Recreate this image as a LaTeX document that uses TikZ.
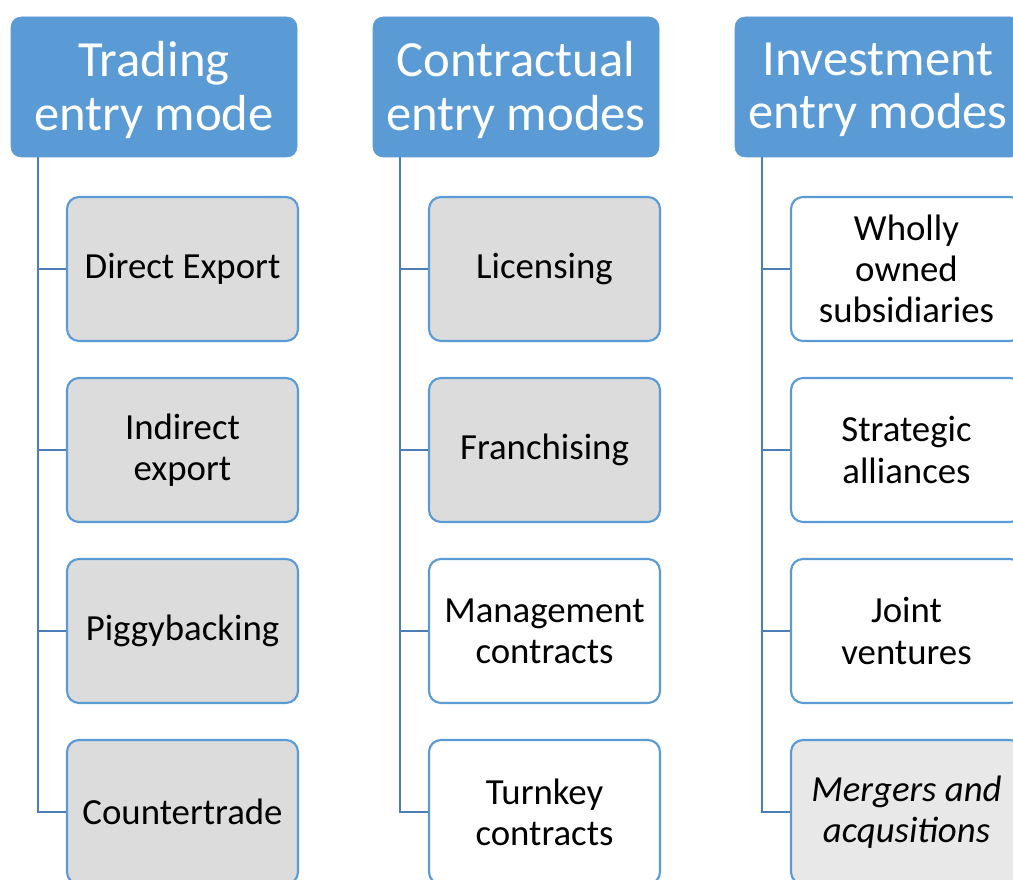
\documentclass[tikz,border=0pt]{standalone}
\usepackage{fontspec}
\setmainfont{Carlito}
\begin{document}
\definecolor{headblue}{HTML}{5B9BD5}
\definecolor{trunkblue}{HTML}{4A7EB4}
\definecolor{boxgray}{HTML}{DCDCDC}
\definecolor{lightgray}{HTML}{E8E8E8}
\begin{tikzpicture}[x=0.75pt, y=-0.75pt,
  header/.style={draw=headblue, fill=headblue, rounded corners=7.5pt,
    minimum width={286*0.75pt}, minimum height={140*0.75pt}, inner sep=0pt,
    text=white, align=center,
    font=\fontsize{38pt}{40pt}\selectfont},
  item/.style={draw=headblue, line width=1.6pt, rounded corners=9pt,
    minimum width={231*0.75pt}, minimum height={144*0.75pt}, inner sep=0pt,
    align=center, text=black,
    font=\fontsize{27.6pt}{30.8pt}\selectfont},
  grayitem/.style={item, fill=boxgray},
  whiteitem/.style={item, fill=white},
  link/.style={draw=trunkblue, line width=2.2pt}]
\useasboundingbox (0,0) rectangle (1013,880);
\clip (0,0) rectangle (1013,880);

% column headers
\node[header] (h1) at (154,87) {};
\node[header] (h2) at (516,87) {};
\node[header] (h3) at (878,87) {};
\node[header, draw=none, fill=none] (h1t) at (154,90) {Trading\\entry mode};
\node[header, draw=none, fill=none] (h2t) at (516,90) {Contractual\\entry modes};
\node[header, draw=none, fill=none] (h3t) at (878,90) {Investment\\entry modes};

% trunk start points below each header
\coordinate (t1) at (38,157);
\coordinate (t2) at (400,157);
\coordinate (t3) at (762,157);

% trading column
\node[grayitem] (a1) at (182.5,269) {Direct Export};
\node[grayitem] (a2) at (182.5,450) {Indirect\\export};
\node[grayitem] (a3) at (182.5,631) {Piggybacking};
\node[grayitem] (a4) at (182.5,812) {Countertrade};

% contractual column
\node[grayitem] (b1) at (544.5,269) {Licensing};
\node[grayitem] (b2) at (544.5,450) {Franchising};
\node[whiteitem] (b3) at (544.5,631) {Management\\contracts};
\node[whiteitem] (b4) at (544.5,812) {Turnkey\\contracts};

% investment column
\node[whiteitem] (c1) at (906.5,269) {Wholly\\owned\\subsidiaries};
\node[whiteitem] (c2) at (906.5,450) {Strategic\\alliances};
\node[whiteitem] (c3) at (906.5,631) {Joint\\ventures};
\node[item, fill=lightgray, font=\fontsize{27.6pt}{30.8pt}\selectfont\itshape] (c4) at (906.5,812) {Mergers and\\acqusitions};

% connectors
\foreach \t/\c in {t1/a1,t1/a2,t1/a3,t1/a4,t2/b1,t2/b2,t2/b3,t2/b4,t3/c1,t3/c2,t3/c3,t3/c4}
  \draw[link] (\t) |- (\c.west);
\end{tikzpicture}
\end{document}
